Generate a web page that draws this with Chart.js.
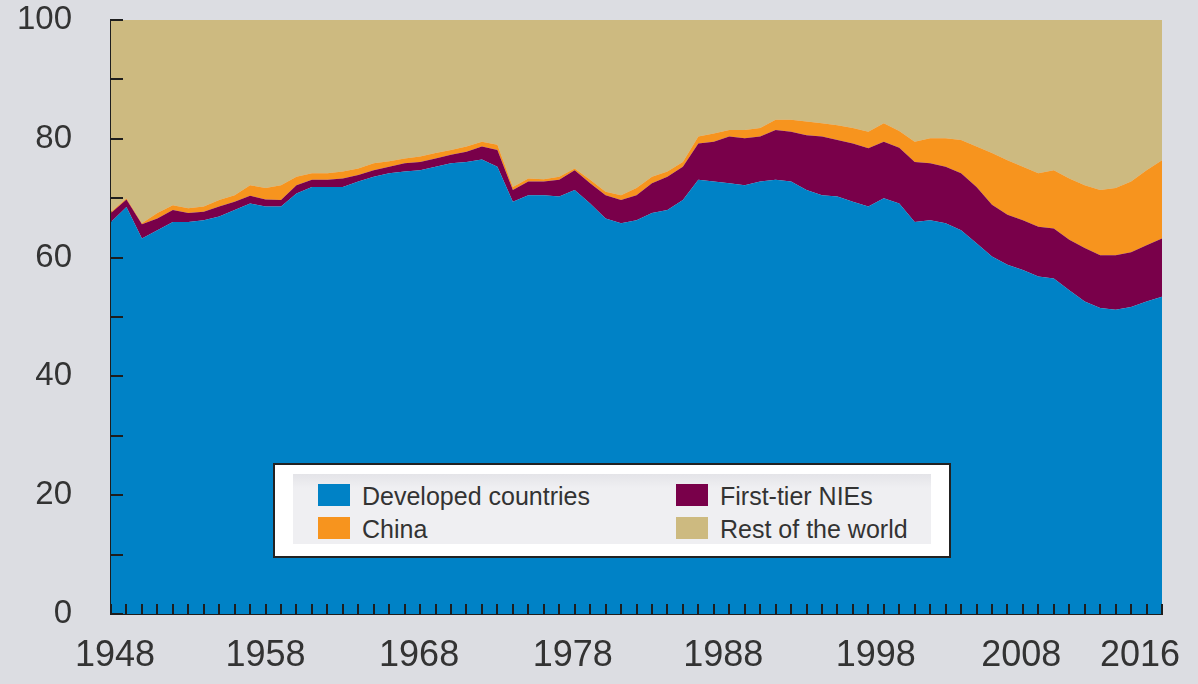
<!DOCTYPE html>
<html>
<head>
<meta charset="utf-8">
<script src="https://cdn.jsdelivr.net/npm/chart.js@4/dist/chart.umd.min.js"></script>
<style>
  html, body { margin: 0; padding: 0; background: #dcdde2; }
  #wrap { position: relative; width: 1198px; height: 684px; }
  #legend {
    position: absolute; left: 273px; top: 463px; width: 674px; height: 91px;
    background: #fff; border: 2px solid #222;
    font-family: "Liberation Sans", Arial, sans-serif; font-size: 25px; color: #333;
  }
  #legend .panel {
    position: absolute; left: 18px; top: 9px; width: 638px; height: 70px;
    background: linear-gradient(#e4e4e8, #efeff2 20%, #efeff2);
  }
  #legend .item { position: absolute; height: 22px; white-space: nowrap; }
  #legend .box { position: absolute; left: 0; top: 0; width: 32px; height: 22px; }
  #legend .txt { position: absolute; left: 44px; top: 1px; line-height: 22px; }
</style>
</head>
<body>
<div id="wrap">
  <canvas id="chart" width="1198" height="684"></canvas>
  <div id="legend"><div class="panel"></div></div>
</div>
<script>
// years 1948..2016
var years = [];
for (var y = 1948; y <= 2016; y++) years.push(y);

// shares of world merchandise exports (%)
var developed = [
  66.0, 68.5, 63.2, 64.6, 66.0, 66.0, 66.3, 66.9, 68.0, 69.1,
  68.6, 68.6, 70.8, 71.9, 71.9, 71.9, 72.8, 73.6, 74.2, 74.5,
  74.7, 75.3, 75.9, 76.1, 76.5, 75.3, 69.4, 70.5, 70.5, 70.3,
  71.4, 69.1, 66.6, 65.8, 66.3, 67.5, 68.0, 69.7, 73.1, 72.8,
  72.5, 72.2, 72.8, 73.1, 72.8, 71.4, 70.5, 70.3, 69.4, 68.6,
  70.0, 69.1, 66.0, 66.3, 65.8, 64.6, 62.4, 60.2, 58.8, 57.9,
  56.8, 56.5, 54.5, 52.6, 51.5, 51.2, 51.7, 52.6, 53.4
];
var nies = [
  1.5, 1.3, 2.4, 2.0, 2.0, 1.5, 1.4, 1.7, 1.4, 1.3,
  1.2, 1.1, 1.4, 1.2, 1.2, 1.4, 1.1, 1.1, 1.1, 1.4,
  1.4, 1.4, 1.4, 1.7, 2.2, 2.8, 2.0, 2.3, 2.3, 2.8,
  3.3, 3.4, 3.9, 3.9, 4.2, 5.0, 5.6, 5.6, 6.1, 6.7,
  7.9, 7.9, 7.6, 8.4, 8.4, 9.2, 9.9, 9.5, 9.8, 9.8,
  9.5, 9.4, 10.1, 9.6, 9.5, 9.6, 9.5, 8.7, 8.4, 8.4,
  8.4, 8.4, 8.5, 9.0, 8.9, 9.2, 9.2, 9.5, 9.8
];
var china = [
  0.2, 0.2, 0.2, 0.9, 0.8, 0.8, 0.9, 1.1, 1.1, 1.8,
  1.9, 2.5, 1.4, 1.1, 1.1, 1.2, 1.1, 1.2, 0.9, 0.8,
  0.9, 0.9, 0.8, 0.9, 0.8, 0.9, 0.5, 0.5, 0.4, 0.5,
  0.3, 0.6, 0.6, 0.8, 1.2, 1.1, 0.9, 0.8, 1.2, 1.4,
  1.1, 1.4, 1.4, 1.7, 2.0, 2.3, 2.2, 2.5, 2.6, 2.8,
  3.1, 2.8, 3.4, 4.2, 4.8, 5.6, 6.8, 8.7, 9.2, 9.0,
  9.0, 9.8, 10.3, 10.6, 11.0, 11.3, 11.9, 12.6, 13.2
];
var restOfWorld = [
  32.3, 30.0, 34.2, 32.5, 31.2, 31.7, 31.4, 30.3, 29.5, 27.8,
  28.3, 27.8, 26.4, 25.8, 25.8, 25.5, 25.0, 24.1, 23.8, 23.3,
  23.0, 22.4, 21.9, 21.3, 20.5, 21.0, 28.1, 26.7, 26.8, 26.4,
  25.0, 26.9, 28.9, 29.5, 28.3, 26.4, 25.5, 23.9, 19.6, 19.1,
  18.5, 18.5, 18.2, 16.8, 16.8, 17.1, 17.4, 17.7, 18.2, 18.8,
  17.4, 18.7, 20.5, 19.9, 19.9, 20.2, 21.3, 22.4, 23.6, 24.7,
  25.8, 25.3, 26.7, 27.8, 28.6, 28.3, 27.2, 25.3, 23.6
];

var seriesNames = ["Developed countries", "First-tier NIEs", "China", "Rest of the world"];
var seriesColors = ["#0082c6", "#79004a", "#f7941e", "#cdba80"];
var seriesValues = [developed, nies, china, restOfWorld];

var yTicks = [0, 10, 20, 30, 40, 50, 60, 70, 80, 90, 100];
var xLabelYears = [1948, 1958, 1968, 1978, 1988, 1998, 2008, 2016];
// small horizontal nudges of the year labels, as in the original
var xLabelNudge = { 1948: 4, 1958: 0, 1968: -1, 1978: -2, 1988: -6, 1998: -8, 2008: -17, 2016: -22 };

var FONT = '"Liberation Sans", Arial, sans-serif';
var AXIS = "#1e1e1e";

var datasets = [];
for (var i = 0; i < seriesNames.length; i++) {
  datasets.push({
    label: seriesNames[i],
    data: seriesValues[i],
    backgroundColor: seriesColors[i],
    borderWidth: 0,
    pointRadius: 0,
    tension: 0,
    fill: i == 0 ? "origin" : "-1"
  });
}

// inward tick marks and the year labels
var axisDecor = {
  id: "axisDecor",
  afterDraw: function(chart) {
    var ctx = chart.ctx;
    var xs = chart.scales.x, ys = chart.scales.y;
    var a = chart.chartArea;
    ctx.save();
    ctx.strokeStyle = AXIS;
    ctx.lineWidth = 2;
    ctx.beginPath();
    for (var k = 0; k < yTicks.length; k++) {
      var py = Math.round(ys.getPixelForValue(yTicks[k]));
      ctx.moveTo(a.left, py);
      ctx.lineTo(a.left + 12, py);
    }
    for (var j = 0; j < years.length; j++) {
      var px = Math.round(xs.getPixelForValue(j));
      ctx.moveTo(px, a.bottom);
      ctx.lineTo(px, a.bottom - 10);
    }
    ctx.stroke();

    ctx.fillStyle = "#333";
    ctx.font = "36px " + FONT;
    ctx.textAlign = "center";
    ctx.textBaseline = "middle";
    for (var m = 0; m < xLabelYears.length; m++) {
      var yr = xLabelYears[m];
      var lx = xs.getPixelForValue(years.indexOf(yr)) + (xLabelNudge[yr] || 0);
      ctx.fillText(String(yr), lx, a.bottom + 42);
    }
    ctx.restore();
  }
};

var chart = new Chart(document.getElementById("chart"), {
  type: "line",
  data: { labels: years, datasets: datasets },
  options: {
    responsive: false,
    animation: false,
    events: [],
    layout: { padding: { top: 20, right: 36, left: 0, bottom: 0 } },
    plugins: { legend: { display: false }, tooltip: { enabled: false } },
    scales: {
      x: {
        z: 1,
        grid: { display: false },
        border: { display: true, color: AXIS, width: 2 },
        ticks: { display: false },
        afterFit: function(scale) { scale.height = 70; scale.paddingLeft = 0; scale.paddingRight = 0; }
      },
      y: {
        z: 1,
        stacked: true,
        min: 0,
        max: 100,
        grid: { display: false },
        border: { display: true, color: AXIS, width: 2 },
        ticks: {
          stepSize: 10,
          padding: 31,
          color: "#333",
          font: { family: FONT, size: 33 },
          callback: function(v) { return v % 20 == 0 ? v : ""; }
        },
        afterFit: function(scale) { scale.width = 111; scale.paddingTop = 0; scale.paddingBottom = 0; }
      }
    }
  },
  plugins: [axisDecor]
});

// legend, two columns, built from the chart's datasets
var legendEl = document.getElementById("legend");
var colX = [43, 401];
var rowY = [19, 52];
chart.data.datasets.forEach(function(ds, idx) {
  var item = document.createElement("div");
  item.className = "item";
  item.style.left = colX[idx % 2] + "px";
  item.style.top = rowY[Math.floor(idx / 2)] + "px";
  item.innerHTML = '<div class="box" style="background:' + ds.backgroundColor + '"></div>' +
    '<div class="txt">' + ds.label + "</div>";
  legendEl.appendChild(item);
});
</script>
</body>
</html>
